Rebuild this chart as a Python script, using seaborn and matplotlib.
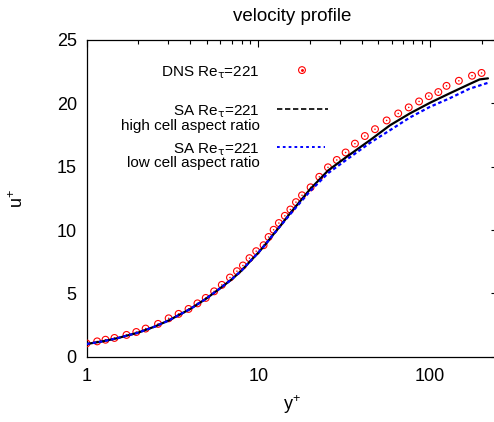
import matplotlib
matplotlib.use("Agg")
import matplotlib.pyplot as plt
import seaborn as sns
import numpy as np
import pandas as pd
from matplotlib.ticker import FixedLocator, LogLocator, NullFormatter, FixedFormatter

# ---- data ----
dns_yplus = [1.0, 1.154, 1.29, 1.455, 1.71, 1.95, 2.21, 2.61, 3.01, 3.44, 3.93, 4.43,
             4.95, 5.54, 6.14, 6.85, 7.52, 8.15, 8.9, 9.74, 10.75, 11.5, 12.3, 13.2,
             14.3, 15.4, 16.6, 18.0, 20.2, 22.7, 25.5, 28.7, 32.3, 36.6, 41.8, 47.9,
             56.0, 65.4, 75.3, 86.5, 98.6, 112.0, 125.0, 147.5, 176.0, 200.0]
dns_uplus = [1.05, 1.21, 1.34, 1.48, 1.72, 1.95, 2.22, 2.59, 3.03, 3.38, 3.77, 4.21,
             4.64, 5.16, 5.67, 6.25, 6.75, 7.2, 7.78, 8.33, 8.8, 9.45, 10.02, 10.55,
             11.12, 11.62, 12.2, 12.74, 13.37, 14.2, 14.95, 15.53, 16.12, 16.82, 17.42, 17.96,
             18.65, 19.2, 19.68, 20.15, 20.57, 20.89, 21.38, 21.78, 22.18, 22.4]

sa_high_yplus = [1.0, 1.25, 1.5, 2.0, 2.5, 3.0, 4.0, 5.0, 6.0, 7.0, 8.0, 9.0, 10.0,
                 11.0, 12.0, 13.4, 15.3, 20.0, 25.6, 32.7, 44.8, 58.6, 76.4, 100.0,
                 130.0, 170.0, 195.0, 218.0]
sa_high_uplus = [1.0, 1.22, 1.45, 1.9, 2.38, 2.85, 3.75, 4.6, 5.4, 6.1, 6.8, 7.55, 8.2,
                 8.85, 9.5, 10.3, 11.3, 13.2, 14.71, 15.77, 17.09, 18.27, 19.2, 20.04,
                 20.78, 21.52, 21.89, 21.97]

sa_low_yplus = [1.0, 1.25, 1.5, 2.0, 2.5, 3.0, 4.0, 5.0, 6.0, 7.0, 8.0, 9.0, 10.0,
                11.0, 12.0, 13.4, 15.3, 20.0, 25.6, 32.7, 44.8, 58.6, 76.4, 100.0,
                130.0, 170.0, 218.0]
sa_low_uplus = [1.0, 1.22, 1.45, 1.9, 2.38, 2.85, 3.75, 4.6, 5.4, 6.1, 6.8, 7.55, 8.2,
                8.85, 9.5, 10.28, 11.22, 13.05, 14.5, 15.55, 16.88, 17.88, 18.88, 19.72,
                20.39, 21.15, 21.62]

x_ticks = [1, 10, 100]
x_tick_labels = ["1", "10", "100"]
y_ticks = [0, 5, 10, 15, 20, 25]

title = "velocity profile"
legend_labels = [r"DNS Re$_{\tau}$=221",
                 [r"SA Re$_{\tau}$=221", "high cell aspect ratio"],
                 [r"SA Re$_{\tau}$=221", "low cell aspect ratio"]]

# ---- style ----
sns.set_style("white")
plt.rcParams["font.family"] = ["Liberation Sans", "DejaVu Sans"]
plt.rcParams["mathtext.fontset"] = "custom"
plt.rcParams["mathtext.rm"] = "Liberation Sans"
plt.rcParams["mathtext.it"] = "DejaVu Sans"
plt.rcParams["mathtext.bf"] = "Liberation Sans:bold"

FS = 11
TICK_FS = 13
TITLE_FS = 13.5
TC = "black"
W, H = 494, 422
fig = plt.figure(figsize=(W / 100, H / 100), dpi=100)
left, right_px, top_px, bottom_px = 86.5, 498.2, 40.0, 356.7
ax = fig.add_axes([left / W, 1 - bottom_px / H, (right_px - left) / W, (bottom_px - top_px) / H])

dns = pd.DataFrame({"yplus": dns_yplus, "uplus": dns_uplus})
high = pd.DataFrame({"yplus": sa_high_yplus, "uplus": sa_high_uplus})
low = pd.DataFrame({"yplus": sa_low_yplus, "uplus": sa_low_uplus})

sns.scatterplot(data=dns, x="yplus", y="uplus", ax=ax, marker="o", s=24,
                facecolors="none", edgecolor="red", linewidth=0.8, zorder=3)
sns.scatterplot(data=dns, x="yplus", y="uplus", ax=ax, marker="o", s=1.2,
                color="red", edgecolor="none", linewidth=0, zorder=3)
sns.lineplot(data=high, x="yplus", y="uplus", ax=ax, color="black", linewidth=1.6,
             estimator=None, sort=False, zorder=4)
sns.lineplot(data=low, x="yplus", y="uplus", ax=ax, color="#0000ff", linewidth=1.6,
             estimator=None, sort=False, zorder=5, linestyle=(0, (1.6, 1.2)))

ax.set_xscale("log")
ax.set_xlim(1, 250)
ax.set_ylim(0, 25)
ax.xaxis.set_major_locator(FixedLocator(x_ticks))
ax.xaxis.set_major_formatter(FixedFormatter(x_tick_labels))
ax.xaxis.set_minor_locator(LogLocator(base=10, subs=np.arange(2, 10)))
ax.xaxis.set_minor_formatter(NullFormatter())
ax.yaxis.set_major_locator(FixedLocator(y_ticks))

for s in ax.spines.values():
    s.set_color("black")
    s.set_linewidth(0.9)
ax.tick_params(which="both", direction="in", top=True, right=True, color="black",
               width=0.8, labelsize=TICK_FS, labelcolor=TC)
ax.tick_params(which="major", length=5)
ax.tick_params(which="minor", length=2.6)
ax.tick_params(axis="y", pad=7)
ax.tick_params(axis="x", pad=8)

ax.set_xlabel(r"y$^{+}$", fontsize=TICK_FS, color=TC)
ax.set_ylabel(r"u$^{+}$", fontsize=TICK_FS, color=TC)
ax.xaxis.set_label_coords(0.5, -0.115)
ax.yaxis.set_label_coords(-0.145, 0.5)
ax.set_title(title, fontsize=TITLE_FS, pad=14, color=TC)

# ---- gnuplot-style key ----
tr = ax.transAxes
tx = 0.4214
ax.text(tx, 0.905, legend_labels[0], transform=tr, ha="right", va="center_baseline",
        fontsize=FS, color=TC)
ax.scatter([0.5234], [0.905], transform=tr, s=24, facecolors="none", edgecolors="red",
           linewidths=0.8, clip_on=False)
ax.scatter([0.5234], [0.905], transform=tr, s=1.2, color="red", clip_on=False)

ax.text(tx, 0.781, legend_labels[1][0], transform=tr, ha="right", va="center_baseline",
        fontsize=FS, color=TC)
ax.text(tx, 0.732, legend_labels[1][1], transform=tr, ha="right", va="center_baseline",
        fontsize=FS, color=TC)
ax.plot([0.462, 0.587], [0.781, 0.781], transform=tr, color="black", linewidth=1.2,
        linestyle=(0, (3.2, 1.6)), clip_on=False)

ax.text(tx, 0.662, legend_labels[2][0], transform=tr, ha="right", va="center_baseline",
        fontsize=FS, color=TC)
ax.text(tx, 0.615, legend_labels[2][1], transform=tr, ha="right", va="center_baseline",
        fontsize=FS, color=TC)
ax.plot([0.462, 0.579], [0.662, 0.662], transform=tr, color="#0000ff", linewidth=1.4,
        linestyle=(0, (1.4, 1.6)), clip_on=False)

fig.savefig("out.png", dpi=100)
